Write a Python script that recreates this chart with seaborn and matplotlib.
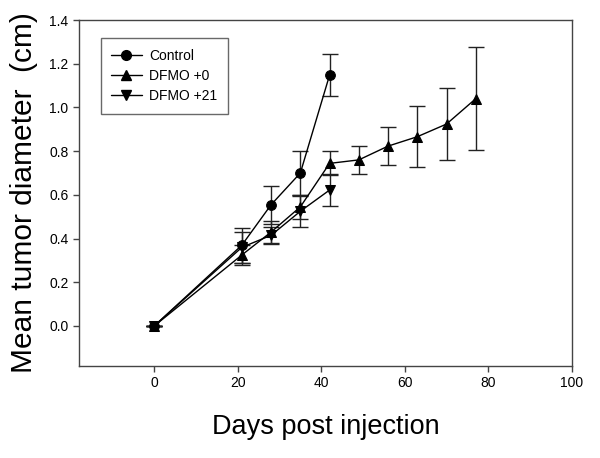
import matplotlib
matplotlib.use("Agg")
import matplotlib.pyplot as plt
import seaborn as sns
import numpy as np
import pandas as pd

sns.set_style("ticks")
plt.rcParams['font.family'] = ['Liberation Sans', 'DejaVu Sans']
plt.rcParams['text.color'] = 'black'
plt.rcParams['axes.labelcolor'] = 'black'
plt.rcParams['xtick.color'] = 'black'
plt.rcParams['ytick.color'] = 'black'

# data
groups = ["Control", "DFMO +0", "DFMO +21"]
control_days = [0, 21, 28, 35, 42]
control_mean = [0.0, 0.37, 0.555, 0.70, 1.148]
control_err = [0.0, 0.08, 0.087, 0.10, 0.097]
dfmo0_days = [0, 21, 28, 35, 42, 49, 56, 63, 70, 77]
dfmo0_mean = [0.0, 0.325, 0.43, 0.545, 0.744, 0.76, 0.823, 0.866, 0.924, 1.04]
dfmo0_err = [0.0, 0.045, 0.05, 0.055, 0.055, 0.065, 0.088, 0.14, 0.165, 0.235]
dfmo21_days = [0, 21, 28, 35, 42]
dfmo21_mean = [0.0, 0.36, 0.415, 0.525, 0.622]
dfmo21_err = [0.0, 0.07, 0.04, 0.07, 0.073]
x_ticks = [0, 20, 40, 60, 80, 100]
y_ticks = [0.0, 0.2, 0.4, 0.6, 0.8, 1.0, 1.2, 1.4]

series = {
    "Control": (control_days, control_mean, control_err),
    "DFMO +0": (dfmo0_days, dfmo0_mean, dfmo0_err),
    "DFMO +21": (dfmo21_days, dfmo21_mean, dfmo21_err),
}
df = pd.concat([
    pd.DataFrame({"day": d, "diam": m, "err": e, "group": g})
    for g, (d, m, e) in series.items()
], ignore_index=True)

markers = {"Control": "o", "DFMO +0": "^", "DFMO +21": "v"}

fig = plt.figure(figsize=(6, 4.58), dpi=100)
ax = fig.add_axes([0.1317, 0.2009, 0.8213, 0.7554])

for g in groups:
    sub = df[df["group"] == g]
    ax.errorbar(sub["day"], sub["diam"], yerr=sub["err"], fmt="none",
                ecolor="#222222", elinewidth=1, capsize=6, capthick=1, zorder=2)

sns.lineplot(data=df, x="day", y="diam", style="group", markers=markers,
             dashes=False, color="black", linewidth=1, markersize=7,
             markeredgecolor="black", ax=ax, legend=False, zorder=3)

handles = [plt.Line2D([], [], color="black", lw=1, marker=markers[g],
                      markersize=7, markeredgecolor="black") for g in groups]
leg = ax.legend(handles, groups, loc="upper left", bbox_to_anchor=(0.044, 0.947),
                borderaxespad=0, fontsize=10, frameon=True, fancybox=False,
                handlelength=2.2, borderpad=0.75, labelspacing=0.45,
                handletextpad=0.55)
leg.get_frame().set_edgecolor("#444444")
leg.get_frame().set_linewidth(1)

ax.set_xlim(-18, 100)
ax.set_ylim(-0.183, 1.4)
ax.set_xticks(x_ticks)
ax.set_yticks(y_ticks)
ax.set_yticklabels([f"{v:.1f}" for v in y_ticks])
ax.tick_params(labelsize=10, length=4, width=1, color="#444444", direction="out")
for s in ax.spines.values():
    s.set_visible(True)
    s.set_color("#444444")
    s.set_linewidth(1)

ax.set_xlabel("Days post injection", fontsize=19.5, labelpad=17)
ax.set_ylabel("Mean tumor diameter  (cm)", fontsize=21.5, labelpad=8)

fig.savefig("out.png", dpi=100)
